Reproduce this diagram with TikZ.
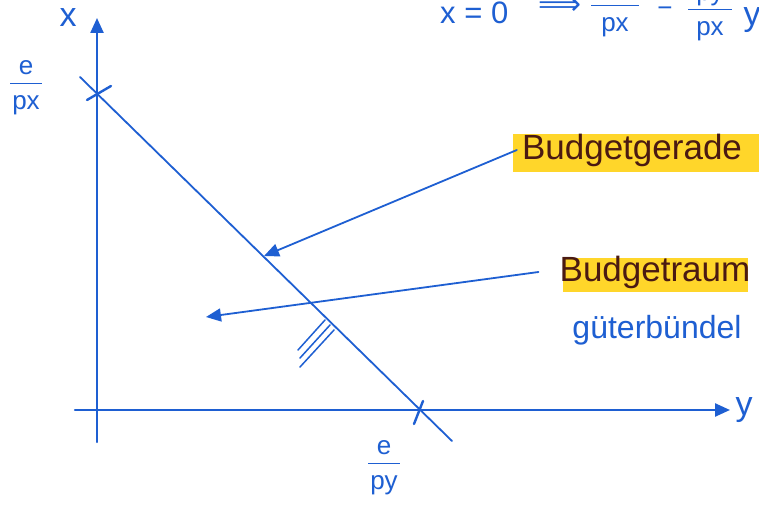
\documentclass[tikz,border=0pt]{standalone}
\usepackage{fontspec}
\setmainfont{Liberation Sans}
\newfontfamily\symfont{DejaVu Sans}
\usetikzlibrary{arrows.meta}
\definecolor{ink}{HTML}{1E5FD2}
\definecolor{hl}{HTML}{FFD62A}
\definecolor{hltext}{HTML}{4A1A12}
\setlength{\arrayrulewidth}{1.6pt}
\newcommand{\wfrac}[3]{\begin{tabular}{@{\hspace{#1}}c@{\hspace{#1}}}#2\\[-1pt]\hline\rule{0pt}{0.95em}#3\end{tabular}}
\begin{document}
\begin{tikzpicture}[x=1pt,y=-1pt,line cap=round,
  axis/.style={draw=ink,line width=2.4pt},
  ray/.style={draw=ink,line width=1.8pt},
  tip/.style={-{Triangle[length=15pt,width=13pt]}},
  lab/.style={text=ink,inner sep=0pt,font=\fontsize{26}{30}\selectfont},
  big/.style={lab,font=\fontsize{34}{38}\selectfont},
  hltxt/.style={text=hltext,inner sep=1pt,font=\fontsize{35}{40}\selectfont}]
\useasboundingbox (0,0) rectangle (759,527);
\clip (0,0) rectangle (759,527);
\fill[white] (0,0) rectangle (759,527);
% highlights
\fill[hl] (513,134) rectangle (759,172);
\fill[hl] (563,258) rectangle (748,292);
% axes
\coordinate (ybot) at (97,442);
\coordinate (ytop) at (97,18);
\coordinate (xleft) at (75,410);
\coordinate (xright) at (730,410);
\draw[axis,tip] (ybot) -- (ytop);
\draw[axis,tip] (xleft) -- (xright);
% budget line
\coordinate (bl0) at (80,77);
\coordinate (bl1) at (452,441);
\draw[ray] (bl0) -- (bl1);
% ticks
\coordinate (tk1a) at (87,100);
\coordinate (tk1b) at (111,86);
\draw[axis] (tk1a) -- (tk1b);
\coordinate (tk2a) at (414,424);
\coordinate (tk2b) at (423,401);
\draw[axis] (tk2a) -- (tk2b);
% hatching
\coordinate (h1a) at (325,320); \coordinate (h1b) at (298,350);
\coordinate (h2a) at (330,325); \coordinate (h2b) at (300,358);
\coordinate (h3a) at (334,330); \coordinate (h3b) at (300,367);
\draw[ray,line width=1.5pt] (h1a) -- (h1b);
\draw[ray,line width=1.5pt] (h2a) -- (h2b);
\draw[ray,line width=1.5pt] (h3a) -- (h3b);
% axis labels
\node[big] (xlab) at (68,18) {x};
\node[big] (ylab) at (744,410) {y};
\node[lab] (epx) at (26,86) {\wfrac{2pt}{e}{px}};
\node[lab] (epy) at (384,466) {\wfrac{2pt}{e}{py}};
% notes
\node[hltxt] (bg) at (632,150) {Budgetgerade};
\node[hltxt] (br) at (655,272) {Budgetraum};
\node[lab,font=\fontsize{32}{36}\selectfont] (gb) at (657,330) {güterbündel};
% formula (cut off at the top edge)
\node[lab,anchor=base west,font=\fontsize{31}{34}\selectfont] (eqa) at (440,24) {x = 0};
\node[lab,font=\symfont\fontsize{30}{34}\selectfont] (eqb) at (560,7) {⟹};
\node[lab] (eqc) at (615,8) {\wfrac{10pt}{e}{px}};
\node[lab] (eqd) at (665,12) {−};
\node[lab] (eqe) at (710,12) {\wfrac{8pt}{py}{px}};
\node[big] (eqf) at (752,20) {y};
% arrows
\coordinate (t1) at (264,256);
\coordinate (t2) at (206,317);
\draw[ray,tip] ([xshift=-4pt]bg.west) -- (t1);
\draw[ray,tip] ([xshift=-20pt]br.west) -- (t2);
\end{tikzpicture}
\end{document}
